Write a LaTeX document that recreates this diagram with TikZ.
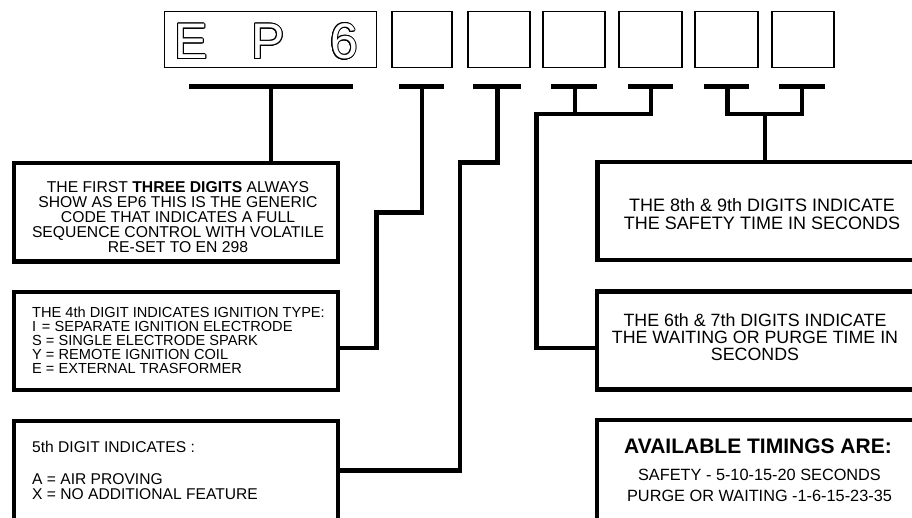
\documentclass[tikz,border=0pt]{standalone}
\usepackage{fontspec}
\setmainfont{Liberation Sans}
\usepackage{contour}
\contourlength{0.9pt}
\newcommand{\hollow}[1]{\contour{black}{\textcolor{white}{#1}}}
\begin{document}
\begin{tikzpicture}[x=1pt,y=-1pt,
  digitbox/.style={draw,line width=1.5pt,inner sep=0pt,outer sep=0pt,minimum width=62pt,minimum height=56pt},
  bigbox/.style={draw,line width=4.5pt,inner sep=0pt,outer sep=0pt,anchor=north west},
  bar/.style={line width=5pt},
  conn/.style={line width=4.5pt,line join=miter},
  bigletter/.style={inner sep=0pt,font=\fontsize{50}{50}\selectfont},
  txt/.style={inner sep=0pt,align=center}]
\useasboundingbox (0,0) rectangle (912,517);
\fill[white] (0,0) rectangle (912,517);

% top digit boxes
\node[digitbox,minimum width=212pt] (d1) at (270.5,39.5) {};
\node[bigletter] (lE) at (191,42) {\hollow{E}};
\node[bigletter] (lP) at (268,42) {\hollow{P}};
\node[bigletter] (l6) at (344,42) {\hollow{6}};
\node[digitbox,minimum width=60pt] (d2) at (422,39.5) {};
\node[digitbox] (d3) at (499,39.5) {};
\node[digitbox] (d4) at (574,39.5) {};
\node[digitbox,minimum width=63pt] (d5) at (650.5,39.5) {};
\node[digitbox,minimum width=63pt] (d6) at (726.5,39.5) {};
\node[digitbox] (d7) at (803,39.5) {};

% bars
\coordinate (b1) at (271,86.5);
\coordinate (b2) at (422,86.5);
\coordinate (b3) at (497.5,86.5);
\coordinate (b4) at (575,86.5);
\coordinate (b5) at (651,86.5);
\coordinate (b6) at (727.5,86.5);
\coordinate (b7) at (802,86.5);
\draw[bar] ([xshift=-82pt]b1) -- ([xshift=82pt]b1);
\draw[bar] ([xshift=-23pt]b2) -- ([xshift=22pt]b2);
\draw[bar] ([xshift=-24.5pt]b3) -- ([xshift=23.5pt]b3);
\draw[bar] ([xshift=-24pt]b4) -- ([xshift=22pt]b4);
\draw[bar] ([xshift=-23pt]b5) -- ([xshift=22pt]b5);
\draw[bar] ([xshift=-23.5pt]b6) -- ([xshift=21.5pt]b6);
\draw[bar] ([xshift=-23pt]b7) -- ([xshift=23pt]b7);

% description boxes
\node[bigbox,minimum width=324pt,minimum height=98.5pt] (B1) at (14,163) {};
\node[bigbox,minimum width=324pt,minimum height=98pt] (B4) at (14,292) {};
\node[bigbox,minimum width=324pt,minimum height=130pt] (B5) at (14,421) {};
\node[bigbox,minimum width=340pt,minimum height=98pt] (B89) at (597.5,162) {};
\node[bigbox,minimum width=340pt,minimum height=98pt] (B67) at (597,291.5) {};
\node[bigbox,minimum width=340pt,minimum height=130pt] (BT) at (597,420) {};

% texts
\node[txt,font=\fontsize{15.7}{15}\selectfont] (t1) at (178,217.5)
  {THE FIRST \textbf{THREE DIGITS} ALWAYS\\SHOW AS EP6 THIS IS THE GENERIC\\CODE THAT INDICATES A FULL\\SEQUENCE CONTROL WITH VOLATILE\\RE-SET TO EN 298};
\node[txt,align=left,anchor=west,font=\fontsize{14.6}{14}\selectfont] (t4) at (32,340)
  {THE 4th DIGIT INDICATES IGNITION TYPE:\\\makebox[0.667em][l]{I}= SEPARATE IGNITION ELECTRODE\\S = SINGLE ELECTRODE SPARK\\Y = REMOTE IGNITION COIL\\E = EXTERNAL TRASFORMER};
\node[txt,align=left,anchor=west,font=\fontsize{15.6}{15}\selectfont] (t5) at (32,470.3)
  {5th DIGIT INDICATES :\\[17.3pt]A = AIR PROVING\\X = NO ADDITIONAL FEATURE};
\node[txt,font=\fontsize{18}{18.3}\selectfont] (t89) at (762,214)
  {THE 8th \& 9th DIGITS INDICATE\\THE SAFETY TIME IN SECONDS};
\node[txt,font=\fontsize{17.8}{16.7}\selectfont] (t67) at (755,337)
  {THE 6th \& 7th DIGITS INDICATE\\THE WAITING OR PURGE TIME IN\\SECONDS};
\node[txt,font=\bfseries\fontsize{21}{21}\selectfont] (tt1) at (758,445.8)
  {AVAILABLE TIMINGS ARE:};
\node[txt,font=\fontsize{16.3}{21.3}\selectfont] (tt2) at (759.5,485.7)
  {SAFETY - 5-10-15-20 SECONDS\\PURGE OR WAITING -1-6-15-23-35};

% connectors
\draw[conn] (b1) -- (b1 |- B1.north);
\draw[conn] (b2) |- (376.5,212.5) |- (B4.east |- 0,348);
\draw[conn] (b3) |- (460,162.5) |- (B5.east |- 0,470.5);
\draw[conn] (b4) -- (575,114);
\draw[conn] (b5) |- (536.5,114) |- (B67.west |- 0,348);
\coordinate (j89) at (765,114);
\draw[conn] (b6) |- (j89) -| (b7);
\draw[conn] (j89) -- (B89.north west -| j89);
\end{tikzpicture}
\end{document}
